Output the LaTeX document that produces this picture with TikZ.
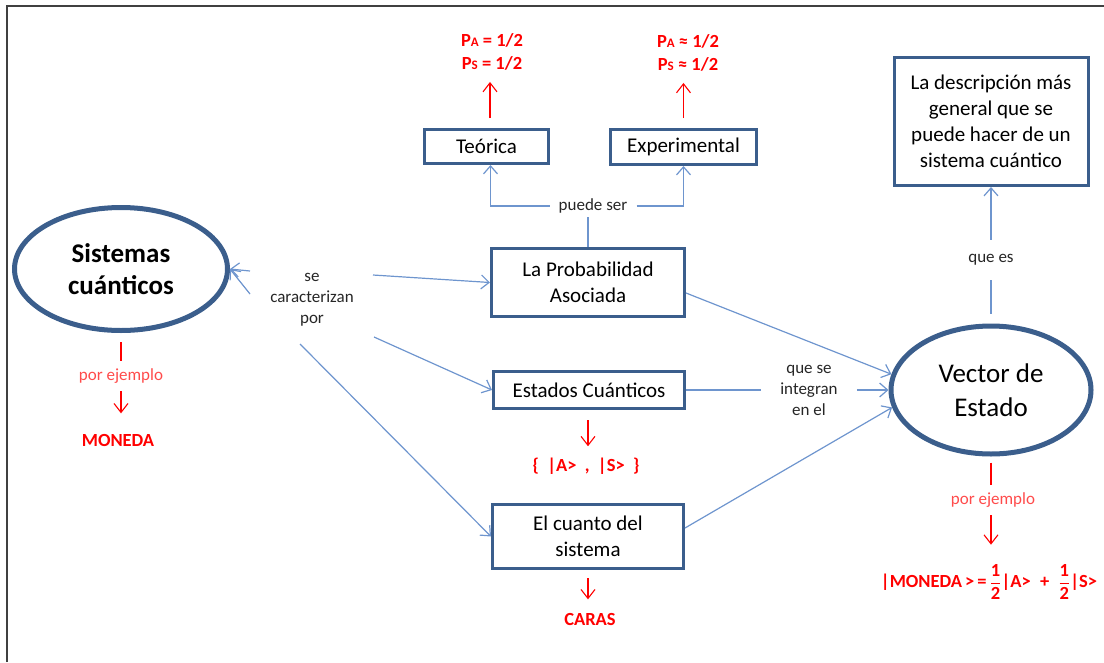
\documentclass[tikz,border=0pt]{standalone}
\usepackage{fontspec}
\setmainfont{Carlito}
\usetikzlibrary{arrows.meta,shapes.geometric}
\definecolor{borde}{HTML}{3B5E8C}
\definecolor{azulclaro}{HTML}{6E95CE}
\definecolor{rojo}{HTML}{FF0000}
\definecolor{rojoclaro}{HTML}{FF4B4B}
\newcommand{\psub}[1]{{\fontsize{13}{13}\selectfont #1}}
\newcommand{\medio}{$\displaystyle\frac{\mbox{1}}{\mbox{2}}$}

\begin{document}
\begin{tikzpicture}[x=1pt,y=-1pt,
  caja/.style={draw=borde,line width=3pt,align=center,inner sep=0pt,font=\fontsize{21}{26}\selectfont},
  elipse/.style={ellipse,draw=borde,line width=5pt,align=center,inner sep=0pt},
  texto/.style={align=center,font=\fontsize{17}{21}\selectfont,text=black!85},
  ejemplo/.style={align=center,font=\fontsize{17}{21}\selectfont,text=rojoclaro},
  resultado/.style={align=center,font=\bfseries\fontsize{18.5}{23}\selectfont,text=rojo},
  linea/.style={draw=azulclaro,line width=1.2pt},
  flecha/.style={linea,-{Straight Barb[length=8pt,width=14pt]}},
  roja/.style={draw=rojo,line width=1.1pt},
  rojaflecha/.style={roja,-{Straight Barb[length=9pt,width=14pt]}}]
\useasboundingbox (0,0) rectangle (1104,662);
\draw[line width=1.5pt,black!75] (7,662) -- (7,6) -- (1104,6);

\node[elipse,minimum width=213pt,minimum height=123pt,font=\bfseries\fontsize{27}{32}\selectfont] (sistemas) at (121,269) {Sistemas\\cuánticos};
\node[elipse,minimum width=200pt,minimum height=128pt,font=\fontsize{27}{34}\selectfont] (vector) at (991,390) {Vector de\\Estado};
\node[caja,minimum width=193pt,minimum height=68pt] (prob) at (588,282.5) {La Probabilidad\\Asociada};
\node[caja,minimum width=191pt,minimum height=37pt] (estados) at (589,390) {Estados Cuánticos};
\node[caja,minimum width=191pt,minimum height=64pt] (cuanto) at (588,536.5) {El cuanto del\\sistema};
\node[caja,minimum width=124pt,minimum height=34pt] (teorica) at (486.5,146.5) {Teórica};
\node[caja,minimum width=146pt,minimum height=35pt] (experimental) at (683.5,147) {Experimental};
\node[caja,minimum width=194pt,minimum height=128pt] (descripcion) at (991,121.5) {La descripción más\\general que se\\puede hacer de un\\sistema cuántico};

\node[texto] (caracterizan) at (312,300) {se\\caracterizan\\por};
\node[texto,inner xsep=9pt] (puede) at (593,206) {puede ser};
\node[texto,minimum height=40pt] (quees) at (991,260) {que es};
\node[texto,inner xsep=19pt] (integran) at (809,390) {que se\\integran\\en el};

\node[resultado] (pteorica) at (492,52) {P\psub{A} = 1/2\\P\psub{S} = 1/2};
\node[resultado] (pexperimental) at (688,53) {P\psub{A} ≈ 1/2\\P\psub{S} ≈ 1/2};
\node[ejemplo,minimum height=30pt] (ejemplo1) at (121,376) {por ejemplo};
\node[resultado] (moneda) at (118,440) {MONEDA};
\node[resultado] (kets) at (586,466) {\{\ \ |A>\ \ ,\ \ |S>\ \ \}};
\node[resultado] (caras) at (590,619) {CARAS};
\node[ejemplo,minimum height=30pt] (ejemplo2) at (993,500) {por ejemplo};
\node[resultado] (formula) at (989,582) {|MONEDA\,>\,=\,\medio|A>\enspace+\enspace\medio|S>};

\coordinate (c1) at (250,271);
\coordinate (c2) at (250,294);
\coordinate (c3) at (373,275);
\coordinate (c4) at (374,337);
\coordinate (c5) at (300,344);
\draw[flecha] (c1) -- (sistemas.east);
\draw[flecha] (c2) -- (sistemas.east);
\draw[flecha] (c3) -- (prob.west);
\draw[flecha] (c4) -- (estados.west);
\draw[flecha] (c5) -- (cuanto.west);

\draw[linea] (prob.north) -- (prob.north |- puede.south);
\draw[flecha] (puede.west) -| ([xshift=4pt]teorica.south);
\draw[flecha] (puede.east) -| (experimental.south);

\draw[rojaflecha,shorten <=10pt,shorten >=8pt] (490,128) -- (pteorica.south -| 490,0);
\draw[rojaflecha,shorten <=10pt,shorten >=8pt] (experimental.north) -- (experimental.north |- pexperimental.south);

\draw[linea] (estados.east) -- (integran.west);
\draw[flecha] (integran.east) -- (vector.180);
\draw[flecha] ([yshift=-10.5pt]prob.east) -- (vector.171);
\draw[flecha] ([yshift=8.5pt]cuanto.east) -- (vector.190);

\draw[linea,shorten <=10pt] (vector.north) -- (quees.south);
\draw[flecha] (quees.north) -- (descripcion.south);

\draw[roja,shorten <=9pt] (sistemas.south) -- (ejemplo1.north);
\draw[rojaflecha,shorten >=17pt] (ejemplo1.south) -- (moneda.north -| ejemplo1.south);
\draw[rojaflecha,shorten <=10pt,shorten >=8pt] (estados.south -| 588,0) -- (kets.north -| 588,0);
\draw[rojaflecha,shorten <=8pt,shorten >=10pt] (cuanto.south) -- (cuanto.south |- caras.north);
\draw[roja,shorten <=6pt] (vector.south) -- (vector.south |- ejemplo2.north);
\draw[rojaflecha,shorten >=16pt] (vector.south |- ejemplo2.south) -- (vector.south |- formula.north);
\end{tikzpicture}
\end{document}
